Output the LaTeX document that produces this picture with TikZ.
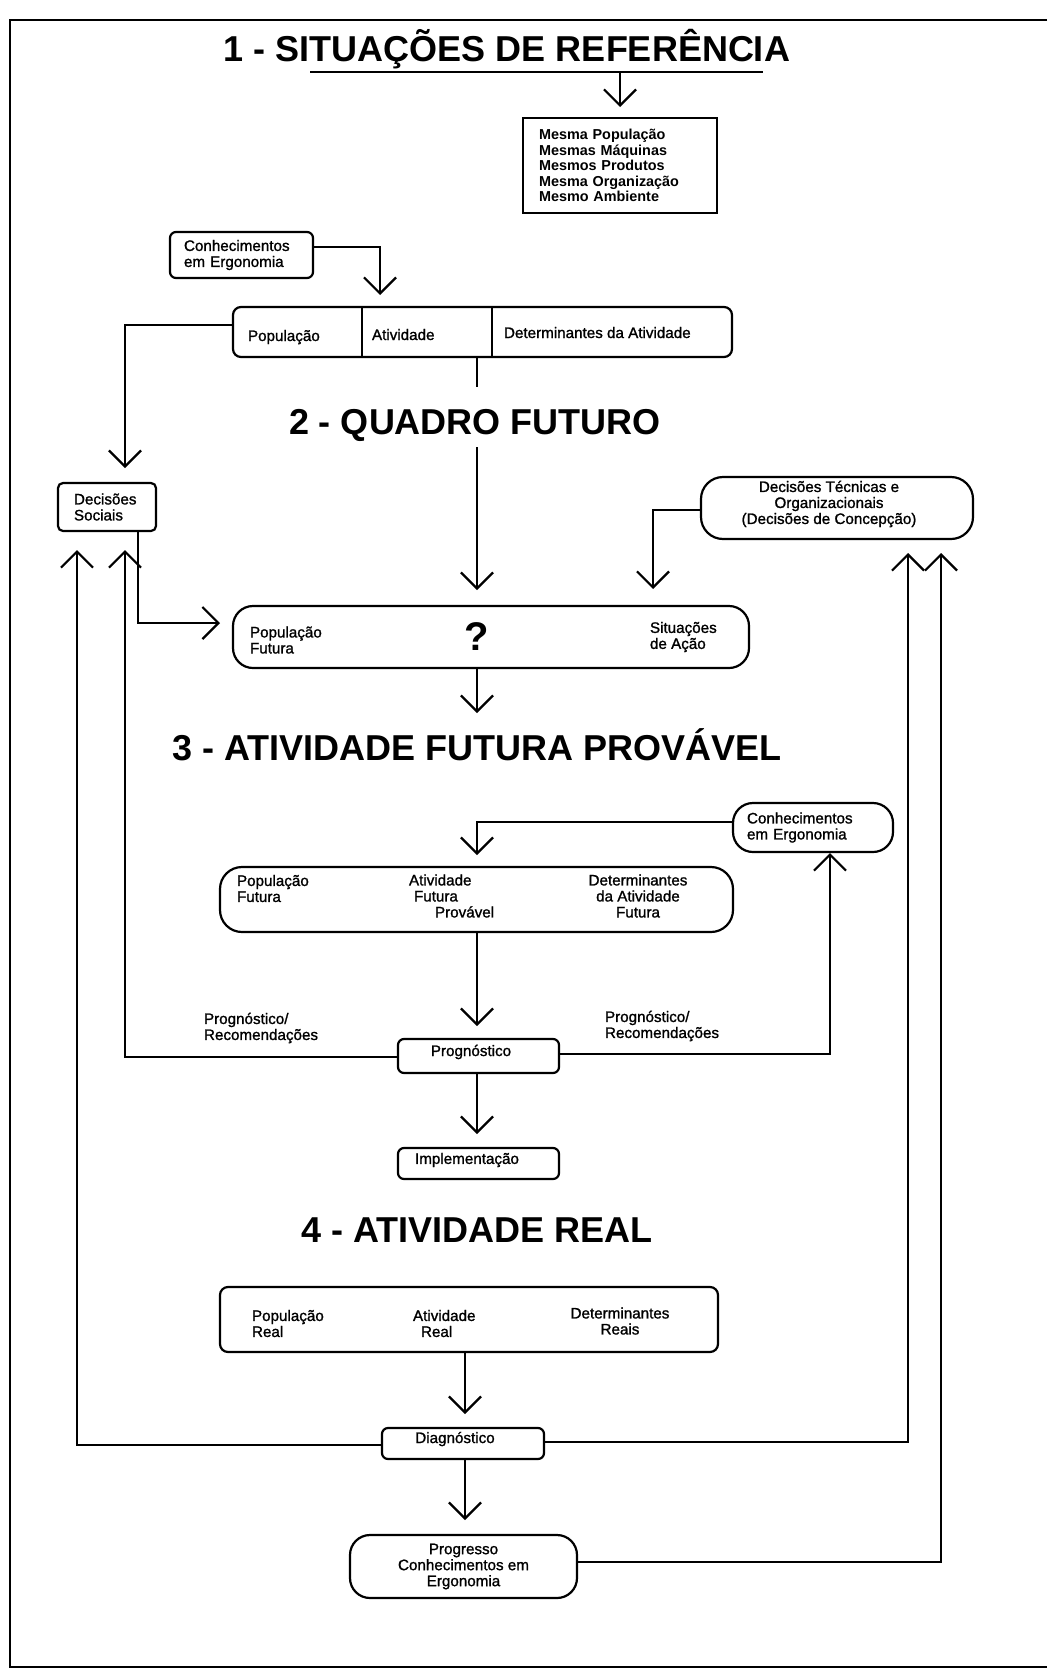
\documentclass[tikz,border=0pt]{standalone}
\usepackage{fontspec}
\setmainfont{Liberation Sans}
\newfontfamily\lblfamily[RawFeature={embolden=1.2}]{Liberation Sans}
\usetikzlibrary{arrows.meta}

\begin{document}
\begin{tikzpicture}[x=1pt,y=-1pt,
  line width=2.2pt,
  every node/.style={inner sep=0pt, outer sep=0pt},
  boxsq/.style={draw},
  boxr/.style={draw, rounded corners=6pt},
  boxp/.style={draw, rounded corners=20pt},
  lbl/.style={font=\lblfamily\fontsize{15.2}{16}\selectfont, align=left},
  ttl/.style={font=\fontsize{36}{40}\selectfont\bfseries, anchor=base},
  arr/.style={-{Straight Barb[length=16pt,width=32pt]}},
]
% page and frame
\fill[white] (0,0) rectangle (1047,1673);
\useasboundingbox (0,0) rectangle (1047,1673);
\draw[line width=1.8pt] (1047,20) -- (10,20) -- (10,1667) -- (1047,1667);

% ---------- 1 - reference situations ----------
\node[ttl] (t1) at (507,61) {1 - SITUAÇÕES DE REFERÊNCIA};
\coordinate (u1) at (310,72);
\coordinate (u2) at (763,72);
\draw (u1) -- (u2);

\node[boxsq, minimum width=194pt, minimum height=95pt, text width=162pt,
      inner xsep=16pt, align=left, font=\fontsize{14.4}{15.6}\selectfont\bfseries]
  (mesma) at (620,165.5)
  {Mesma População\\Mesmas Máquinas\\Mesmos Produtos\\Mesma Organização\\Mesmo Ambiente};
\draw[arr, shorten >=11pt] (u1 -| mesma.north) -- (mesma.north);

\node[boxr, minimum width=143pt, minimum height=46pt, text width=115pt,
      inner xsep=14pt, lbl] (conh1) at (241.5,255) {Conhecimentos\\em Ergonomia};

\node[boxr, rounded corners=8pt, minimum width=499pt, minimum height=50pt]
  (row) at (482.5,332) {};
\coordinate (d1) at (362,332);
\coordinate (d2) at (492,332);
\draw (d1 |- row.north) -- (d1 |- row.south);
\draw (d2 |- row.north) -- (d2 |- row.south);
\node[lbl, anchor=base west] (rowpop) at (248,341) {População};
\node[lbl, anchor=base west] (rowativ) at (372,340) {Atividade};
\node[lbl, anchor=base west] (rowdet) at (504,338) {Determinantes da Atividade};

\coordinate (k1) at (380,247);
\draw[arr, shorten >=12pt] (conh1.east |- k1) -- (k1) -- (k1 |- row.north);

% ---------- 2 - future frame ----------
\node[ttl] (t2) at (475,434) {2 - QUADRO FUTURO};

\node[boxr, rounded corners=5pt, minimum width=98pt, minimum height=48pt,
      text width=66pt, inner xsep=16pt, lbl] (socials) at (107,507) {Decisões\\Sociais};

\node[boxp, rounded corners=22pt, minimum width=272pt, minimum height=62pt]
  (tecn) at (837,508) {};
\node[lbl, align=center] (tecnt) at (829,504)
  {Decisões Técnicas e\\Organizacionais\\(Decisões de Concepção)};

\node[boxp, minimum width=516pt, minimum height=62pt] (fut) at (491,637) {};
\node[lbl, anchor=west] (futpop) at (250,640) {População\\Futura};
\node[font=\fontsize{40}{40}\selectfont\bfseries] (q) at (477,637) {?};
\node[lbl, anchor=west] (futsit) at (650,637) {Situações\\de Ação};

\coordinate (k2) at (125,325);
\draw[arr, shorten >=15pt] (row.west |- k2) -- (k2) -- (k2 |- socials.north);

\coordinate (k3) at (477,387);
\coordinate (k4) at (477,447);
\draw (k3 |- row.south) -- (k3);
\draw[arr, shorten >=16pt] (k4) -- (k4 |- fut.north);

\coordinate (k5) at (138,623);
\draw[arr, shorten >=13pt] (k5 |- socials.south) -- (k5) -- (fut.west |- k5);

\coordinate (k6) at (653,510);
\draw[arr, shorten >=17pt] (tecn.west |- k6) -- (k6) -- (k6 |- fut.north);

% ---------- 3 - probable future activity ----------
\coordinate (k7) at (477,713);
\draw[arr] (k7 |- fut.south) -- (k7);
\node[ttl] (t3) at (477,760) {3 - ATIVIDADE FUTURA PROVÁVEL};

\node[boxp, minimum width=160pt, minimum height=49pt, text width=132pt,
      inner xsep=14pt, lbl] (conh2) at (813,827.5) {Conhecimentos\\em Ergonomia};

\node[boxp, rounded corners=22pt, minimum width=513pt, minimum height=65pt]
  (fut2) at (476.5,899.5) {};
\node[lbl, anchor=west] (fut2pop) at (237,888.5) {População\\Futura};
\node[lbl, anchor=west] (fut2ativ) at (409,896)
  {Atividade\\\hspace*{5pt}Futura\\\hspace*{26pt}Provável};
\node[lbl, align=center] (fut2det) at (638,896) {Determinantes\\da Atividade\\Futura};

\coordinate (k8) at (477,822);
\draw[arr, shorten >=12pt] (conh2.west |- k8) -- (k8) -- (k8 |- fut2.north);

\node[boxr, minimum width=161pt, minimum height=34pt] (prog) at (478.5,1056) {};
\node[lbl] (progt) at (471,1052) {Prognóstico};
\draw[arr, shorten >=13pt] (k8 |- fut2.south) -- (k8 |- prog.north);

\node[lbl, anchor=west] (recl) at (204,1028) {Prognóstico/\\Recomendações};
\node[lbl, anchor=west] (recr) at (605,1026) {Prognóstico/\\Recomendações};

\coordinate (k9) at (125,1057);
\draw[arr, shorten >=19pt] (prog.west |- k9) -- (k9) -- (k9 |- socials.south);
\coordinate (k10) at (830,1054);
\draw[arr, shorten >=1pt] (prog.east |- k10) -- (k10) -- (k10 |- conh2.south);

\node[boxr, minimum width=161pt, minimum height=31pt] (impl) at (478.5,1163.5) {};
\node[lbl] (implt) at (467,1160) {Implementação};
\draw[arr, shorten >=14pt] (k8 |- prog.south) -- (k8 |- impl.north);

% ---------- 4 - real activity ----------
\node[ttl] (t4) at (477,1242) {4 - ATIVIDADE REAL};

\node[boxr, rounded corners=8pt, minimum width=498pt, minimum height=65pt]
  (real) at (469,1319.5) {};
\node[lbl, anchor=west] (realpop) at (252,1323.5) {População\\Real};
\node[lbl, anchor=west] (realativ) at (413,1323.5) {Atividade\\\hspace*{8pt}Real};
\node[lbl, align=center] (realdet) at (620,1321) {Determinantes\\Reais};

\node[boxr, minimum width=162pt, minimum height=31pt] (diag) at (463,1443.5) {};
\node[lbl] (diagt) at (455,1439) {Diagnóstico};

\coordinate (k11) at (465,1400);
\draw[arr, shorten >=14pt] (k11 |- real.south) -- (k11 |- diag.north);

\node[boxp, minimum width=227pt, minimum height=63pt, lbl, align=center]
  (progr) at (463.5,1566.5) {Progresso\\Conhecimentos em\\Ergonomia};
\draw[arr, shorten >=15pt] (k11 |- diag.south) -- (k11 |- progr.north);

\coordinate (k12) at (77,1445);
\draw[arr, shorten >=19pt] (diag.west |- k12) -- (k12) -- (k12 |- socials.south);
\coordinate (k13) at (908,1442);
\draw[arr, shorten >=14pt] (diag.east |- k13) -- (k13) -- (k13 |- tecn.south);
\coordinate (k14) at (941,1562);
\draw[arr, shorten >=14pt] (progr.east |- k14) -- (k14) -- (k14 |- tecn.south);
\end{tikzpicture}
\end{document}
